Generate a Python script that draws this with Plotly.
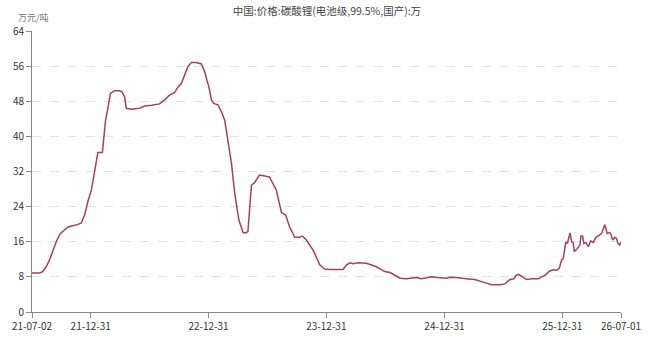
import plotly.graph_objects as go

dates = [
    "2021-07-02", "2021-07-25", "2021-08-04", "2021-08-15", "2021-08-25", "2021-09-04", "2021-09-15",
    "2021-09-28", "2021-10-09", "2021-10-21", "2021-11-01", "2021-11-16", "2021-12-02", "2021-12-12",
    "2021-12-22", "2022-01-02", "2022-01-12", "2022-01-22", "2022-02-05", "2022-02-15", "2022-02-22",
    "2022-03-02", "2022-03-15", "2022-03-30", "2022-04-06", "2022-04-15", "2022-04-20", "2022-05-06",
    "2022-05-31", "2022-06-16", "2022-07-08", "2022-08-01", "2022-08-17", "2022-09-01", "2022-09-17",
    "2022-09-27", "2022-10-08", "2022-10-18", "2022-10-28", "2022-11-08", "2022-11-23", "2022-12-09",
    "2022-12-19", "2022-12-26", "2023-01-01", "2023-01-09", "2023-01-16", "2023-01-29", "2023-02-09",
    "2023-02-19", "2023-03-01", "2023-03-12", "2023-03-22", "2023-04-04", "2023-04-17", "2023-04-25",
    "2023-05-02", "2023-05-13", "2023-05-23", "2023-06-07", "2023-06-23", "2023-07-08", "2023-07-29",
    "2023-08-14", "2023-08-27", "2023-09-08", "2023-09-24", "2023-10-09", "2023-10-18", "2023-10-30",
    "2023-11-20", "2023-11-30", "2023-12-11", "2023-12-26", "2024-01-11", "2024-02-21", "2024-03-02",
    "2024-03-13", "2024-03-23", "2024-04-07", "2024-05-03", "2024-05-19", "2024-06-03", "2024-06-29",
    "2024-07-15", "2024-08-04", "2024-08-15", "2024-09-04", "2024-09-15", "2024-10-05", "2024-10-21",
    "2024-11-05", "2024-11-21", "2024-12-01", "2024-12-22", "2025-01-06", "2025-01-17", "2025-02-06",
    "2025-03-09", "2025-04-04", "2025-04-30", "2025-05-26", "2025-06-21", "2025-07-06", "2025-07-22",
    "2025-08-03", "2025-08-09", "2025-08-17", "2025-08-27", "2025-09-11", "2025-09-27", "2025-10-18",
    "2025-10-28", "2025-11-07", "2025-11-21", "2025-12-03", "2025-12-14", "2025-12-22", "2025-12-29",
    "2026-01-03", "2026-01-11", "2026-01-16", "2026-01-24", "2026-01-29", "2026-02-03", "2026-02-06",
    "2026-02-14", "2026-02-24", "2026-02-27", "2026-03-04", "2026-03-08", "2026-03-14", "2026-03-22",
    "2026-03-29", "2026-04-06", "2026-04-14", "2026-04-25", "2026-05-02", "2026-05-12", "2026-05-19",
    "2026-05-26", "2026-05-30", "2026-06-05", "2026-06-12", "2026-06-17", "2026-06-22", "2026-06-27",
    "2026-07-01",
]

prices = [
    8.9, 8.9, 9.2, 10.3, 11.8, 13.7, 16.0,
    17.9, 18.5, 19.3, 19.6, 19.8, 20.3, 22.1,
    25.1, 27.8, 32.0, 36.3, 36.3, 43.7, 46.4,
    49.8, 50.4, 50.4, 50.2, 49.0, 46.4, 46.2,
    46.4, 46.9, 47.1, 47.4, 48.3, 49.4, 50.0,
    51.2, 52.1, 53.8, 55.9, 56.8, 56.8, 56.5,
    54.7, 52.8, 51.3, 48.3, 47.5, 47.2, 45.6,
    43.7, 39.0, 33.9, 27.1, 21.0, 18.1, 18.0,
    18.3, 28.9, 29.5, 31.2, 31.0, 30.7, 27.8,
    22.6, 22.1, 19.4, 17.0, 17.0, 17.3, 16.4,
    14.1, 12.6, 10.7, 9.8, 9.7, 9.7, 10.7,
    11.2, 11.0, 11.2, 11.1, 10.7, 10.3, 9.2,
    9.0, 8.2, 7.7, 7.55, 7.7, 7.85, 7.55,
    7.7, 8.0, 7.9, 7.7, 7.7, 7.9, 7.85,
    7.6, 7.4, 6.8, 6.2, 6.2, 6.4, 7.4,
    7.55, 8.3, 8.6, 8.15, 7.4, 7.55, 7.55,
    8.0, 8.3, 9.3, 9.6, 9.5, 10.0, 11.9,
    12.1, 16.0, 15.6, 18.0, 16.0, 15.8, 13.8,
    14.3, 15.3, 17.3, 17.3, 15.6, 15.85, 14.9,
    16.2, 15.8, 17.0, 17.5, 17.9, 19.9, 17.9,
    18.1, 17.9, 16.4, 17.0, 16.75, 15.6, 15.25,
    16.0,
]

x_tick_dates = ["2021-07-02", "2021-12-31", "2022-12-31", "2023-12-31", "2024-12-31", "2025-12-31", "2026-07-01"]
x_tick_labels = ["21-07-02", "21-12-31", "22-12-31", "23-12-31", "24-12-31", "25-12-31", "26-07-01"]
y_ticks = [0, 8, 16, 24, 32, 40, 48, 56, 64]

title_text = "中国:价格:碳酸锂(电池级,99.5%,国产):万"
unit_text = "万元/吨"

FONT = "Noto Sans CJK SC"

fig = go.Figure()
fig.add_trace(go.Scatter(
    x=dates, y=prices, mode="lines",
    line=dict(color="#a6405f", width=1.5),
    hoverinfo="x+y", showlegend=False,
))

fig.update_layout(
    width=650, height=337,
    margin=dict(l=32, r=29, t=31, b=25, autoexpand=False),
    paper_bgcolor="white", plot_bgcolor="white",
    font=dict(family=FONT, size=10, color="#333333"),
    title=dict(text=title_text, x=327 / 650, xanchor="center", y=1 - 11 / 337, yanchor="middle",
               font=dict(family=FONT, size=10.5, color="#444444")),
    xaxis=dict(
        type="date", range=["2021-07-02", "2026-07-01"],
        tickvals=x_tick_dates, ticktext=x_tick_labels,
        showgrid=False, showline=True, linecolor="#888888", linewidth=1,
        ticks="outside", ticklen=5, tickcolor="#888888",
        tickfont=dict(family=FONT, size=10, color="#333333"),
        zeroline=False, automargin=False,
    ),
    yaxis=dict(
        range=[0, 64], tickvals=y_ticks,
        showgrid=True, gridcolor="#e3e3e3", griddash="dash", gridwidth=1,
        showline=True, linecolor="#888888", linewidth=1,
        ticks="outside", ticklen=5, tickcolor="#888888",
        tickfont=dict(family=FONT, size=10, color="#333333"),
        zeroline=False, automargin=False,
    ),
    annotations=[dict(
        text=unit_text, xref="paper", yref="paper", x=0.0017, y=1.0, yshift=14,
        xanchor="center", yanchor="middle", showarrow=False,
        font=dict(family=FONT, size=9, color="#777777"),
    )],
)

fig.write_html("out.html")
